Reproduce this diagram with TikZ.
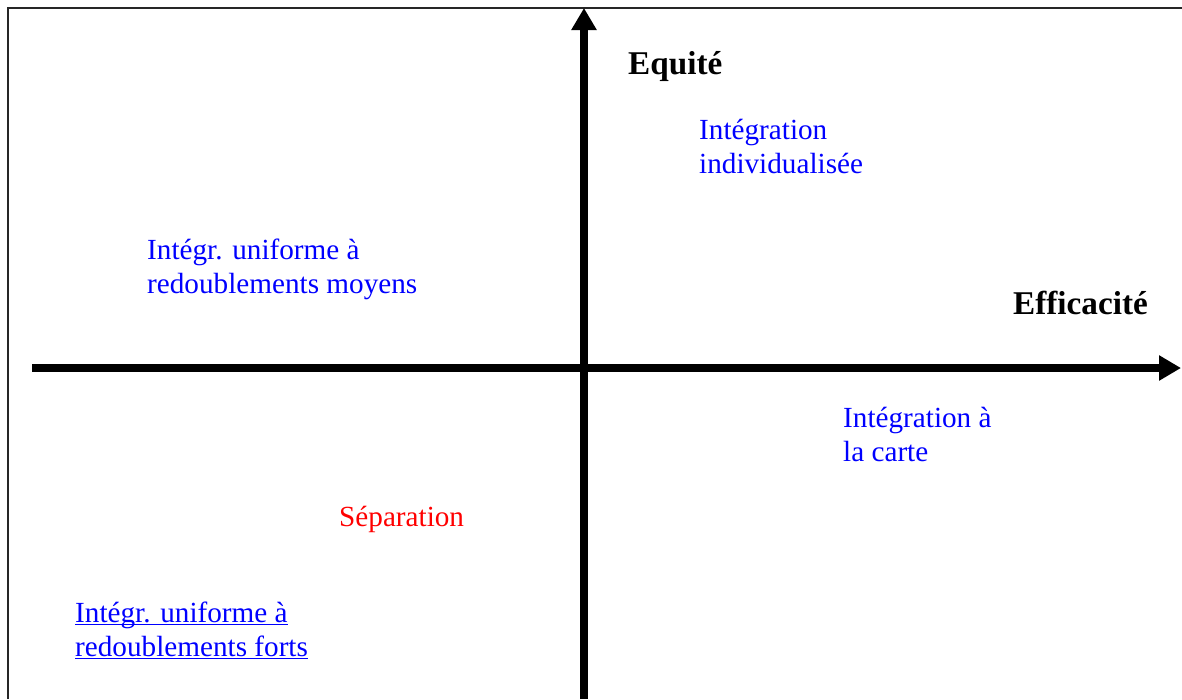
\documentclass[tikz,border=0pt]{standalone}
\usepackage{fontspec}
\setmainfont{Liberation Serif}
\usetikzlibrary{arrows.meta}
\begin{document}
\begin{tikzpicture}[x=1pt,y=-1pt,
  lab/.style={anchor=base west,inner sep=0pt,font=\fontsize{29.2}{34}\selectfont},
  bluelab/.style={lab,text={rgb,255:red,0;green,0;blue,255}},
  redlab/.style={lab,text={rgb,255:red,255;green,0;blue,0}},
  axlab/.style={anchor=base west,inner sep=0pt,font=\fontsize{33.2}{38}\selectfont\bfseries},
  axis/.style={line width=7.5pt,-{Triangle[length=22pt,width=24pt]}},
  frame/.style={line width=2.4pt,black!85},
  uline/.style={line width=1.4pt,draw={rgb,255:red,0;green,0;blue,255}}]
\useasboundingbox (0,0) rectangle (1182,699);
% frame
\coordinate (fbl) at (8,699);
\coordinate (ftl) at (8,8);
\coordinate (ftr) at (1182,8);
\draw[frame] (fbl) -- (ftl) -- (ftr);
% axes
\coordinate (xl) at (32,368);
\coordinate (xr) at (1181,368);
\coordinate (yb) at (584,699);
\coordinate (yt) at (584,8);
\draw[axis] (xl) -- (xr);
\draw[axis] (yb) -- (yt);
% axis labels
\node[axlab] (equite) at (628,74) {Equité};
\node[axlab] (effic) at (1013,314) {Efficacité};
% labels
\node[bluelab] (ind1) at (699,139) {Intégration};
\node[bluelab] (ind2) at (699,173) {individualisée};
\node[bluelab] (moy1) at (147,259) {Intégr. uniforme à};
\node[bluelab] (moy2) at (147,293) {redoublements moyens};
\node[bluelab] (car1) at (843,427) {Intégration à};
\node[bluelab] (car2) at (843,461) {la carte};
\node[redlab] (sep) at (339,526) {Séparation};
\node[bluelab] (for1) at (75,622) {Intégr. uniforme à};
\node[bluelab] (for2) at (75,656) {redoublements forts};
\draw[uline] ([yshift=-2.5pt]for1.base west) -- ([yshift=-2.5pt]for1.base east);
\draw[uline] ([yshift=-2.5pt]for2.base west) -- ([yshift=-2.5pt]for2.base east);
\end{tikzpicture}
\end{document}
